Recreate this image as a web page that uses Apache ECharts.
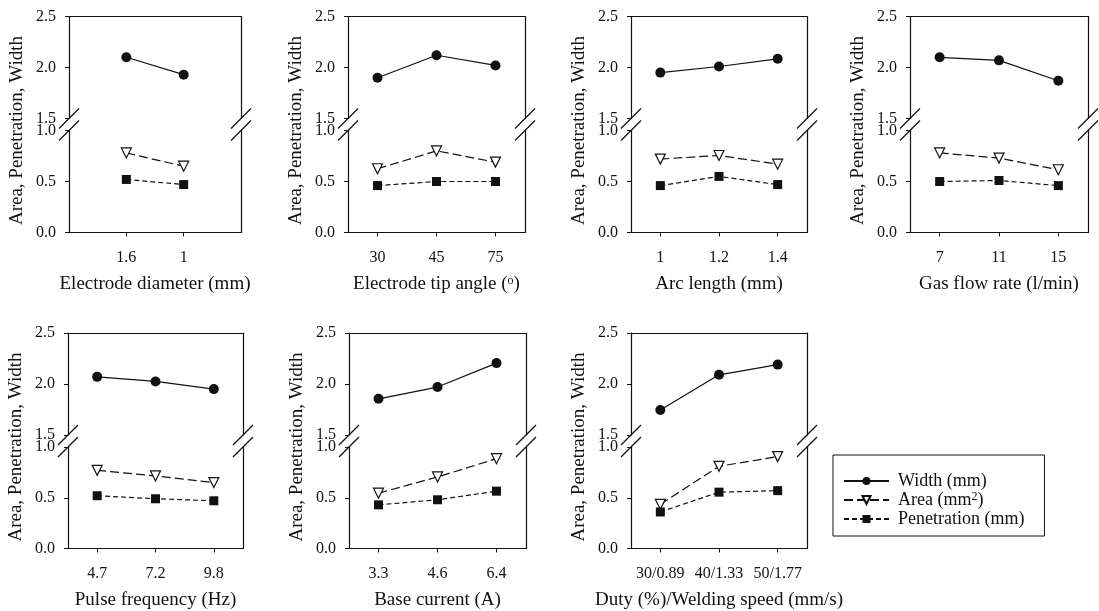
<!DOCTYPE html>
<html><head><meta charset="utf-8">
<script src="https://cdn.jsdelivr.net/npm/echarts@6/dist/echarts.min.js"></script>
<style>html,body{margin:0;padding:0;background:#fff}#c{width:1099px;height:611px}</style>
</head><body><div id="c"></div>
<script>
// ---- data ----
const diameterCats = ['1.6', '1'];
const diameterWidth = [2.10, 1.93];
const diameterArea = [0.78, 0.65];
const diameterPen = [0.52, 0.47];

const tipAngleCats = ['30', '45', '75'];
const tipAngleWidth = [1.90, 2.12, 2.02];
const tipAngleArea = [0.625, 0.80, 0.69];
const tipAnglePen = [0.46, 0.50, 0.50];

const arcCats = ['1', '1.2', '1.4'];
const arcWidth = [1.95, 2.01, 2.085];
const arcArea = [0.72, 0.755, 0.67];
const arcPen = [0.46, 0.55, 0.47];

const gasCats = ['7', '11', '15'];
const gasWidth = [2.10, 2.07, 1.87];
const gasArea = [0.78, 0.73, 0.615];
const gasPen = [0.50, 0.51, 0.46];

const pulseCats = ['4.7', '7.2', '9.8'];
const pulseWidth = [2.07, 2.025, 1.95];
const pulseArea = [0.77, 0.715, 0.65];
const pulsePen = [0.52, 0.49, 0.47];

const baseCats = ['3.3', '4.6', '6.4'];
const baseWidth = [1.855, 1.97, 2.205];
const baseArea = [0.545, 0.705, 0.885];
const basePen = [0.43, 0.48, 0.565];

const dutyCats = ['30/0.89', '40/1.33', '50/1.77'];
const dutyWidth = [1.745, 2.09, 2.19];
const dutyArea = [0.435, 0.81, 0.905];
const dutyPen = [0.36, 0.555, 0.57];

const xTitles = ['Electrode diameter (mm)', 'Electrode tip angle ({sup|o})', 'Arc length (mm)',
  'Gas flow rate (l/min)', 'Pulse frequency (Hz)', 'Base current (A)', 'Duty (%)/Welding speed (mm/s)'];
const yTitle = 'Area, Penetration, Width';
const seriesNames = ['Width (mm)', 'Area (mm2)', 'Penetration (mm)'];
const legendLabels = ['Width (mm)', 'Area (mm{sup|2})', 'Penetration (mm)'];
const upperTicks = { min: 1.5, max: 2.5, interval: 0.5 };
const lowerTicks = { min: 0, max: 1.0, interval: 0.5 };

const panels = [
  { cats: diameterCats, w: diameterWidth, a: diameterArea, p: diameterPen },
  { cats: tipAngleCats, w: tipAngleWidth, a: tipAngleArea, p: tipAnglePen },
  { cats: arcCats, w: arcWidth, a: arcArea, p: arcPen },
  { cats: gasCats, w: gasWidth, a: gasArea, p: gasPen },
  { cats: pulseCats, w: pulseWidth, a: pulseArea, p: pulsePen },
  { cats: baseCats, w: baseWidth, a: baseArea, p: basePen },
  { cats: dutyCats, w: dutyWidth, a: dutyArea, p: dutyPen }
];

// ---- layout ----
const boxLeft = [69, 348, 631, 910, 68, 349, 631];
const boxWidth = [172, 177, 176, 178, 175, 177, 176];
const rowTop = [16.5, 333];
const rowOf = [0, 0, 0, 0, 1, 1, 1];
const partH = 102, gapH = 12;
const INK = '#111';
const FONT = 'Liberation Serif';

const grids = [], xAxes = [], yAxes = [], series = [], graphics = [];
const axisLineStyle = { color: INK, width: 1.2 };

panels.forEach((pn, i) => {
  const left = boxLeft[i], width = boxWidth[i], top = rowTop[rowOf[i]];
  grids.push({ left, top, width, height: partH });
  grids.push({ left, top: top + partH + gapH, width, height: partH });
  const pad = pn.cats.length === 2;
  const xData = pad ? ['', ...pn.cats, ''] : pn.cats;
  const wrap = arr => pad ? [null, ...arr, null] : arr;

  xAxes.push({
    gridIndex: 2 * i, type: 'category', data: xData, boundaryGap: !pad, position: 'top',
    axisLine: { onZero: false, lineStyle: axisLineStyle },
    axisTick: { show: false }, axisLabel: { show: false }, splitLine: { show: false }
  });
  xAxes.push({
    gridIndex: 2 * i + 1, type: 'category', data: xData, boundaryGap: !pad, position: 'bottom',
    axisLine: { onZero: false, lineStyle: axisLineStyle },
    axisTick: { show: true, alignWithLabel: true, length: 4, lineStyle: { color: INK },
      interval: (idx, val) => val !== '' },
    axisLabel: { interval: 0, margin: 17, color: INK, fontFamily: FONT, fontSize: 16 },
    splitLine: { show: false },
    name: xTitles[i], nameLocation: 'middle', nameGap: 52,
    nameTextStyle: { color: INK, fontFamily: FONT, fontSize: 19, verticalAlign: 'middle',
      rich: { sup: { fontFamily: FONT, fontSize: 12, color: INK, verticalAlign: 'top', padding: [0, 0, 6, 0] } } }
  });
  [upperTicks, lowerTicks].forEach((t, k) => {
    const g = 2 * i + k;
    yAxes.push({
      gridIndex: g, type: 'value', min: t.min, max: t.max, interval: t.interval, position: 'left',
      axisLine: { show: true, onZero: false, lineStyle: axisLineStyle },
      axisTick: { show: true, length: 4, lineStyle: { color: INK } },
      axisLabel: { margin: 13, color: INK, fontFamily: FONT, fontSize: 16, formatter: v => v.toFixed(1) },
      splitLine: { show: false }
    });
    yAxes.push({
      gridIndex: g, type: 'value', min: t.min, max: t.max, interval: t.interval, position: 'right',
      axisLine: { show: true, onZero: false, lineStyle: axisLineStyle },
      axisTick: { show: false }, axisLabel: { show: false }, splitLine: { show: false }
    });
  });

  series.push({
    name: seriesNames[0], type: 'line', xAxisIndex: 2 * i, yAxisIndex: 4 * i, data: wrap(pn.w),
    symbol: 'circle', symbolSize: 10, itemStyle: { color: INK },
    lineStyle: { color: INK, width: 1.2 }
  });
  series.push({
    name: seriesNames[1], type: 'line', xAxisIndex: 2 * i + 1, yAxisIndex: 4 * i + 2, data: wrap(pn.a),
    symbol: 'triangle', symbolRotate: 180, symbolSize: 10,
    itemStyle: { color: '#fff', borderColor: INK, borderWidth: 1.2 },
    lineStyle: { color: INK, width: 1.2, type: [9, 4] }
  });
  series.push({
    name: seriesNames[2], type: 'line', xAxisIndex: 2 * i + 1, yAxisIndex: 4 * i + 2, data: wrap(pn.p),
    symbol: 'rect', symbolSize: 9, itemStyle: { color: INK },
    lineStyle: { color: INK, width: 1.2, type: [5, 3] }
  });

  // y-axis title spanning both parts
  graphics.push({
    type: 'text', x: left - 52, y: top + 114, rotation: Math.PI / 2,
    style: { text: yTitle, fill: INK, font: '19px "' + FONT + '"', align: 'center', verticalAlign: 'middle' }
  });
  // axis break marks
  [left, left + width].forEach(bx => {
    [top + partH, top + partH + gapH].forEach(by => {
      graphics.push({
        type: 'line', shape: { x1: bx - 10, y1: by + 10, x2: bx + 10, y2: by - 10 },
        style: { stroke: INK, lineWidth: 1.2 }, z: 10
      });
    });
  });
});

const chart = echarts.init(document.getElementById('c'));
chart.setOption({
  animation: false,
  backgroundColor: '#fff',
  grid: grids, xAxis: xAxes, yAxis: yAxes, series,
  graphic: graphics,
  legend: {
    data: seriesNames, orient: 'vertical', left: 833, top: 455,
    itemWidth: 45, itemHeight: 10, itemGap: 1,
    padding: [17, 20, 8, 10],
    borderColor: INK, borderWidth: 1,
    formatter: name => legendLabels[seriesNames.indexOf(name)],
    textStyle: { color: INK, fontFamily: FONT, fontSize: 18, padding: [0, 0, 0, 4],
      rich: { sup: { fontFamily: FONT, fontSize: 12, color: INK, verticalAlign: 'top', padding: [0, 0, 6, 0] } } }
  }
});
</script></body></html>
